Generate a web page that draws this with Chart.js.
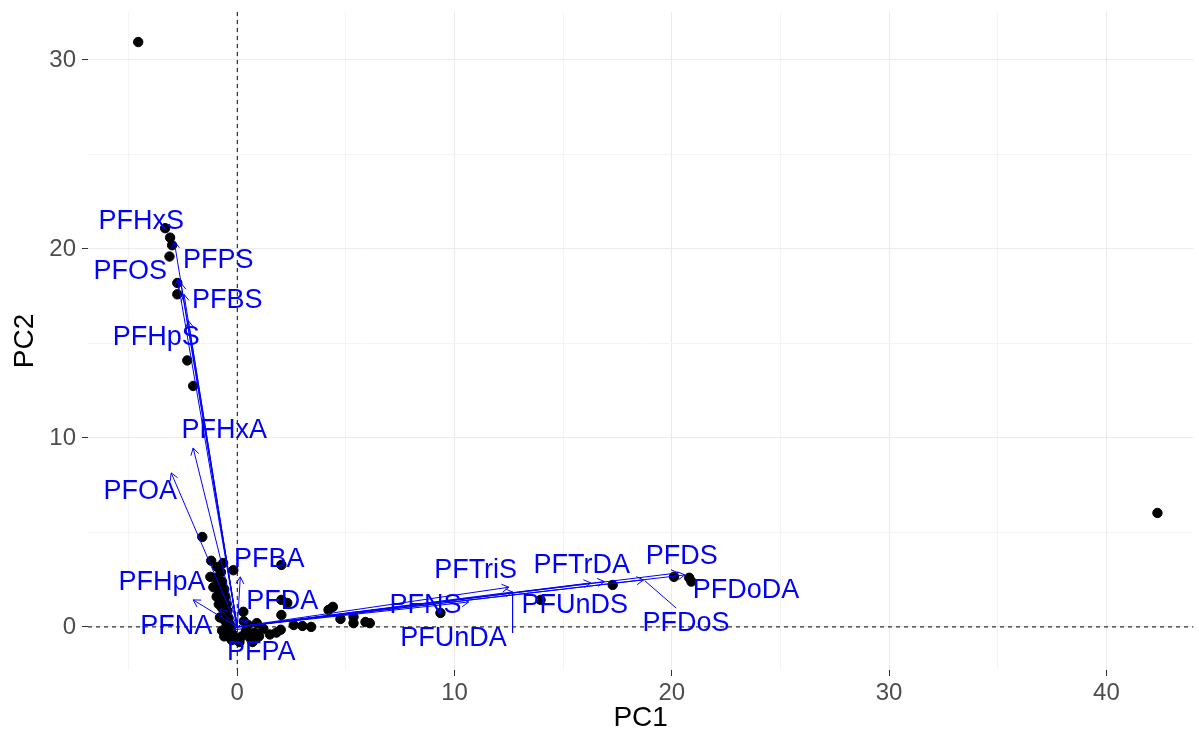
<!DOCTYPE html>
<html>
<head>
<meta charset="utf-8">
<title>PCA biplot</title>
<script src="https://cdn.jsdelivr.net/npm/chart.js@4.4.1/dist/chart.umd.min.js"></script>
<style>
  html, body { margin: 0; padding: 0; background: #fff; }
  #wrap { width: 1199px; height: 737px; }
</style>
</head>
<body>
<div id="wrap"><canvas id="biplot"></canvas></div>
<script>
// Scores (samples)
const scorePC1 = [-4.56, 42.35, -3.32, -3.09, -3.0, -3.12, -2.76, -2.76, -2.3, -2.03,
  -1.61, -1.2, -0.92, -0.65, -1.0, -0.18, 2.03, -0.75, -0.7, -0.9,
  -0.6, -0.8, -0.55, -0.75, -0.5, -0.7, -0.45, -0.6, -0.4, -0.55,
  -0.35, -0.5, -0.3, -0.45, -0.2, -0.35, -0.1, -0.25, 0.1, 0.2,
  0.4, 0.6, 0.8, 1.0, 1.2, 0.5, 0.3, 0.9, 1.5, 1.8,
  2.0, 2.6, 3.0, 3.4, 0.7, 0.28, 2.03, 2.3, 2.03, 4.2,
  4.4, 4.75, 5.35, 5.35, 5.9, 6.1, 9.35, 13.96, 17.28, 20.1,
  20.8, 20.9, -1.24, -1.1, -0.95, -0.85, -0.8, -0.7, -0.6];
const scorePC2 = [30.95, 6.03, 21.1, 20.6, 20.2, 19.6, 18.2, 17.6, 14.1, 12.75,
  4.76, 3.5, 3.17, 3.38, 2.6, 3.0, 3.28, 2.9, 2.4, 2.2,
  2.0, 1.8, 1.6, 1.4, 1.2, 1.0, 0.85, 0.6, 0.45, 0.3,
  0.15, 0.0, -0.1, -0.3, -0.4, -0.55, -0.6, -0.7, -0.8, -0.5,
  -0.2, -0.6, -0.3, -0.5, -0.1, 0.1, 0.3, 0.2, -0.4, -0.3,
  -0.15, 0.1, 0.05, 0.0, -0.8, 0.8, 1.43, 1.27, 0.63, 0.9,
  1.06, 0.42, 0.53, 0.2, 0.26, 0.2, 0.74, 1.43, 2.22, 2.65,
  2.6, 2.4, 2.65, 2.1, 1.6, 1.2, 0.5, -0.2, -0.5];

// Loadings (arrows) and their labels
const varNames = ['PFHxS', 'PFOS', 'PFPS', 'PFBS', 'PFHpS', 'PFHxA', 'PFOA', 'PFBA', 'PFHpA', 'PFNA',
  'PFDA', 'PFPA', 'PFNS', 'PFTriS', 'PFUnDA', 'PFTrDA', 'PFUnDS', 'PFDS', 'PFDoDA', 'PFDoS'];
const loadPC1 = [-2.9, -2.75, -2.6, -2.45, -2.25, -2.03, -3.04, 0.14, -2.03, -0.8,
  0.5, -0.18, 10.65, 12.5, 12.67, 16.27, 16.9, 20.3, 20.6, 18.7];
const loadPC2 = [20.4, 18.4, 18.2, 17.6, 16.2, 9.47, 8.15, 2.65, 1.43, 0.95,
  0.37, -0.16, 1.32, 2.1, 1.85, 2.33, 2.4, 2.86, 2.75, 2.49];
const labelPC1 = [-4.42, -4.93, -0.88, -0.46, -3.73, -0.6, -4.47, 1.47, -3.46, -2.81,
  2.07, 1.1, 8.66, 10.97, 9.95, 15.85, 15.53, 20.46, 23.41, 20.65];
const labelPC2 = [21.43, 18.78, 19.37, 17.25, 15.29, 10.37, 7.14, 3.54, 2.33, 0.0,
  1.32, -1.38, 1.11, 2.96, -0.63, 3.23, 1.11, 3.7, 1.9, 0.16];

// Label leader segments (PFUnDA, PFDoS)
const leaderFromX = [12.67, 18.75];
const leaderFromY = [1.85, 2.45];
const leaderToX = [12.67, 20.2];
const leaderToY = [-0.32, 1.0];

const xTicks = [-5, 0, 5, 10, 15, 20, 25, 30, 35, 40];
const yTicks = [0, 5, 10, 15, 20, 25, 30];

const BLUE = '#0000FF';
const FONT = "'Liberation Sans', Arial, sans-serif";

const scorePoints = scorePC1.map((x, i) => ({ x: x, y: scorePC2[i] }));

const arrowSets = varNames.map((name, i) => ({
  type: 'line',
  label: name,
  data: [{ x: 0, y: 0 }, { x: loadPC1[i], y: loadPC2[i] }],
  borderColor: BLUE,
  borderWidth: 1,
  pointRadius: 0,
  fill: false,
  order: 1
}));

const leaderSets = leaderFromX.map((x, i) => ({
  type: 'line',
  data: [{ x: x, y: leaderFromY[i] }, { x: leaderToX[i], y: leaderToY[i] }],
  borderColor: BLUE,
  borderWidth: 1,
  pointRadius: 0,
  fill: false,
  order: 1
}));

// dashed reference lines at 0 drawn under everything
const zeroLines = {
  id: 'zeroLines',
  beforeDatasetsDraw(chart) {
    const { ctx, chartArea, scales } = chart;
    const x0 = scales.x.getPixelForValue(0);
    const y0 = scales.y.getPixelForValue(0);
    ctx.save();
    ctx.strokeStyle = '#000';
    ctx.lineWidth = 1;
    ctx.setLineDash([4, 4]);
    ctx.beginPath();
    ctx.moveTo(x0, chartArea.top);
    ctx.lineTo(x0, chartArea.bottom);
    ctx.moveTo(chartArea.left, y0);
    ctx.lineTo(chartArea.right, y0);
    ctx.stroke();
    ctx.restore();
  }
};

// arrowheads and variable labels
const biplotDecor = {
  id: 'biplotDecor',
  afterDatasetsDraw(chart) {
    const { ctx, scales } = chart;
    const ox = scales.x.getPixelForValue(0);
    const oy = scales.y.getPixelForValue(0);
    ctx.save();
    ctx.strokeStyle = BLUE;
    ctx.lineWidth = 1;
    varNames.forEach((n, i) => {
      const tx = scales.x.getPixelForValue(loadPC1[i]);
      const ty = scales.y.getPixelForValue(loadPC2[i]);
      const ang = Math.atan2(ty - oy, tx - ox);
      const len = 8, spread = Math.PI / 6;
      ctx.beginPath();
      ctx.moveTo(tx - len * Math.cos(ang - spread), ty - len * Math.sin(ang - spread));
      ctx.lineTo(tx, ty);
      ctx.lineTo(tx - len * Math.cos(ang + spread), ty - len * Math.sin(ang + spread));
      ctx.stroke();
    });
    ctx.fillStyle = BLUE;
    ctx.font = '27px ' + FONT;
    ctx.textAlign = 'center';
    ctx.textBaseline = 'middle';
    varNames.forEach((n, i) => {
      ctx.fillText(n, scales.x.getPixelForValue(labelPC1[i]), scales.y.getPixelForValue(labelPC2[i]));
    });
    ctx.restore();
  }
};

const gridColor = (c) => (c.tick && c.tick.value % 10 === 0) ? '#EBEBEB' : '#F4F4F4';
const tickColor = (c) => (c.tick && c.tick.value % 10 === 0) ? '#333333' : 'rgba(0,0,0,0)';

new Chart(document.getElementById('biplot'), {
  type: 'scatter',
  data: {
    datasets: [
      ...arrowSets,
      ...leaderSets,
      {
        label: 'scores',
        data: scorePoints,
        backgroundColor: '#000',
        borderColor: '#000',
        pointRadius: 4.7,
        pointHoverRadius: 4.7,
        order: 2
      }
    ]
  },
  options: {
    responsive: true,
    maintainAspectRatio: false,
    animation: false,
    layout: { padding: { top: 12, right: 0, left: 0, bottom: 0 } },
    plugins: {
      legend: { display: false },
      tooltip: { enabled: false }
    },
    scales: {
      x: {
        type: 'linear',
        min: -6.87,
        max: 44.0,
        afterBuildTicks: (axis) => { axis.ticks = xTicks.map(v => ({ value: v })); },
        afterFit: (scale) => {
          scale.height = 67;
          scale.paddingLeft = 0;
          scale.paddingRight = 0;
        },
        border: { display: false },
        grid: { color: gridColor, tickColor: tickColor, lineWidth: 1, tickLength: 6 },
        ticks: {
          autoSkip: false,
          maxRotation: 0,
          padding: 3,
          color: '#4D4D4D',
          font: { family: FONT, size: 24 },
          callback: (v) => (v % 10 === 0 ? String(v) : '')
        },
        title: {
          display: true,
          text: 'PC1',
          color: '#000',
          font: { family: FONT, size: 28 },
          padding: { top: 0, bottom: 2 }
        }
      },
      y: {
        type: 'linear',
        min: -2.28,
        max: 32.54,
        afterBuildTicks: (axis) => { axis.ticks = yTicks.map(v => ({ value: v })); },
        afterFit: (scale) => {
          scale.width = 88;
          scale.paddingTop = 0;
          scale.paddingBottom = 0;
        },
        border: { display: false },
        grid: { color: gridColor, tickColor: tickColor, lineWidth: 1, tickLength: 6 },
        ticks: {
          autoSkip: false,
          padding: 6,
          color: '#4D4D4D',
          font: { family: FONT, size: 24 },
          callback: (v) => (v % 10 === 0 ? String(v) : '')
        },
        title: {
          display: true,
          text: 'PC2',
          color: '#000',
          font: { family: FONT, size: 28 },
          padding: { top: 8, bottom: 0 }
        }
      }
    }
  },
  plugins: [zeroLines, biplotDecor]
});
</script>
</body>
</html>
